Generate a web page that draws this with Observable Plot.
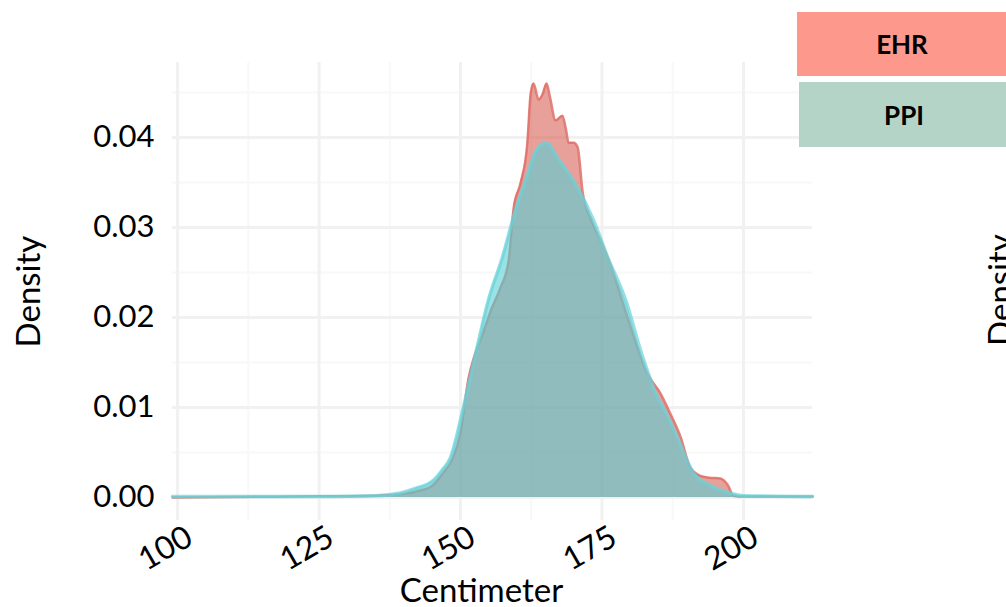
<!DOCTYPE html>
<html><head><meta charset="utf-8">
<script src="https://cdn.jsdelivr.net/npm/d3@7"></script>
<script src="https://cdn.jsdelivr.net/npm/@observablehq/plot@0.6"></script>
<style>
html,body{margin:0;padding:0;background:#fff;overflow:hidden;width:1006px;height:607px;}
#wrap{position:relative;width:1006px;height:607px;font-family:Lato,"Open Sans",sans-serif;overflow:hidden;}
#wrap svg{position:absolute;left:0;top:0;}
.leg{position:absolute;height:64px;width:210px;display:flex;align-items:center;justify-content:center;font-weight:bold;font-size:26px;color:#000;}
.ghost{position:absolute;font-size:33px;line-height:33px;white-space:nowrap;transform:translate(-50%,-50%) rotate(-90deg);color:#000;}
</style></head><body><div id="wrap"></div>
<script>
const series = ["EHR", "PPI"];
const ehrX = [99.1,120,135,140,143,145,147,148.5,150,151.4,152.5,154,155.5,157,158.5,159.4,160.6,161.8,162.4,162.9,163.8,164.5,165.2,165.8,166.8,168.0,168.6,169.1,170.0,170.7,171.6,173,175,177,179,181,183,185.3,187,188.9,190.6,192.4,194,195.9,197.3,198.2,200,212.2];
const ehrY = [0,0.0001,0.0002,0.0004,0.0008,0.0013,0.0028,0.0042,0.0072,0.0132,0.0158,0.0183,0.021,0.0232,0.0263,0.0322,0.0349,0.0393,0.0449,0.046,0.0442,0.0448,0.046,0.0445,0.0419,0.0424,0.041,0.0394,0.0394,0.0389,0.0338,0.031,0.0282,0.025,0.021,0.0172,0.0138,0.0116,0.0094,0.0067,0.0033,0.0024,0.0022,0.0021,0.0013,0.0002,0.0001,0.0001];
const ppiX = [99.1,120,135,139.4,142,145.2,146.7,148.2,150.5,152.5,154.9,157.4,159.7,161.5,163.6,165.2,167.1,170.7,173.5,176.0,179.2,182,184.5,186.5,188.3,191.2,194,198.2,200,212.2];
const ppiY = [0.0001,0.0001,0.0002,0.0005,0.001,0.0019,0.003,0.0044,0.010,0.0155,0.0219,0.0267,0.0319,0.0352,0.0388,0.0394,0.0378,0.0344,0.0308,0.0267,0.0219,0.016,0.0116,0.0092,0.0067,0.0027,0.0014,0.0004,0.0002,0.0001];
const xTicks = [100, 125, 150, 175, 200];
const yTicks = [0, 0.01, 0.02, 0.03, 0.04];
const xTitle = "Centimeter";
const yTitle = "Density";

const ehr = ehrX.map((x, i) => ({x, y: ehrY[i]}));
const ppi = ppiX.map((x, i) => ({x, y: ppiY[i]}));
const minorX = xTicks.map(t => t - 12.5).concat([xTicks[xTicks.length-1] + 12.5]);
const minorY = yTicks.map(t => t + 0.005);

const plot = Plot.plot({
  width: 1006, height: 607,
  marginLeft: 172, marginRight: 194, marginTop: 62, marginBottom: 87,
  style: {fontFamily: "Lato, 'Open Sans', sans-serif", fontSize: "31px", color: "#000", background: "transparent"},
  x: {domain: [99.1, 212.2]},
  y: {domain: [-0.00256, 0.04833]},
  marks: [
    Plot.gridX(minorX.filter(d => d > 99.1 && d < 212.2), {stroke: "#f8f8f8", strokeWidth: 2, strokeOpacity: 1}),
    Plot.gridY(minorY, {stroke: "#f8f8f8", strokeWidth: 2, strokeOpacity: 1}),
    Plot.gridX(xTicks, {stroke: "#f1f1f1", strokeWidth: 3, strokeOpacity: 1}),
    Plot.gridY(yTicks, {stroke: "#f1f1f1", strokeWidth: 3, strokeOpacity: 1}),
    Plot.areaY(ehr, {x: "x", y: "y", fill: "#D55249", fillOpacity: 0.55, curve: "monotone-x"}),
    Plot.lineY(ehr, {x: "x", y: "y", stroke: "#DE6F66", strokeWidth: 2.5, strokeOpacity: 0.85, curve: "monotone-x"}),
    Plot.areaY(ppi, {x: "x", y: "y", fill: "#55CFD5", fillOpacity: 0.6, curve: "monotone-x"}),
    Plot.lineY(ppi, {x: "x", y: "y", stroke: "#6AD3D9", strokeWidth: 3.5, strokeOpacity: 0.7, curve: "monotone-x"}),
    Plot.axisY(yTicks, {tickSize: 0, tickPadding: 18, tickFormat: d3.format(".2f"), fontSize: 31, label: null}),
    Plot.axisX(xTicks, {tickSize: 0, tickPadding: 14, tickRotate: -30, dx: 12, fontSize: 32, label: null}),
    Plot.text([yTitle], {frameAnchor: "left", rotate: -90, dx: -143, fontSize: 33, lineAnchor: "middle", textAnchor: "middle"}),
    Plot.text([xTitle], {frameAnchor: "bottom", dx: -11, dy: 81, fontSize: 33, lineAnchor: "bottom"})
  ]
});
const wrap = document.getElementById("wrap");
wrap.appendChild(plot);

const legFill = ["#FC988C", "#B4D4C8"];
const legPos = [{left: 797, top: 12}, {left: 799, top: 82}];
series.forEach((s, i) => {
  const d = document.createElement("div");
  d.className = "leg";
  d.textContent = s;
  d.style.left = legPos[i].left + "px";
  d.style.top = legPos[i].top + "px";
  d.style.background = legFill[i];
  d.style.height = (i === 0 ? 64 : 65) + "px";
  wrap.appendChild(d);
});
const g = document.createElement("div");
g.className = "ghost";
g.textContent = yTitle;
g.style.left = "999px";
g.style.top = "290px";
wrap.appendChild(g);
</script>
</body></html>
